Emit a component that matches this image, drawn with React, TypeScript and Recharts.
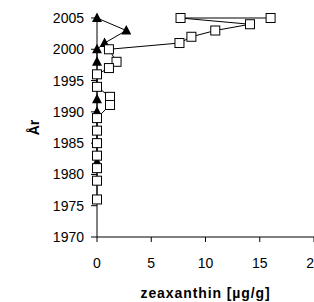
import React from 'react';
import { ScatterChart, Scatter, XAxis, YAxis, Label } from 'recharts';

// Series 1: open squares (zeaxanthin, µg/g) by year
const squareX = [16.0, 7.7, 14.1, 10.9, 8.7, 7.6, 1.1, 1.8, 1.1, 0, 0, 1.2, 1.2, 0, 0, 0, 0, 0, 0, 0];
const squareYear = [2005, 2005, 2004, 2003, 2002, 2001, 2000, 1998, 1997, 1996, 1994, 1992.4, 1991.1, 1989, 1987, 1985, 1983, 1981, 1979, 1976];

// Series 2: filled triangles
const triangleX = [0, 2.7, 0.7, 0, 0, 0, 0, 0];
const triangleYear = [2005, 2003, 2001, 2000, 1998, 1992, 1990, 1982];

const xTicks = [0, 5, 10, 15, 20];
const yTicks = [1970, 1975, 1980, 1985, 1990, 1995, 2000, 2005];

const xLabel = 'zeaxanthin [µg/g]';
const yLabel = 'År';

const squares = squareX.map((x, i) => ({ x, y: squareYear[i] }));
const triangles = triangleX.map((x, i) => ({ x, y: triangleYear[i] }));

const SquareShape = (props: any) => {
  const { cx, cy } = props;
  if (cx == null || cy == null) return null;
  return <rect x={cx - 4.5} y={cy - 4.5} width={9} height={9} fill="#fff" stroke="#000" strokeWidth={1} />;
};

const TriangleShape = (props: any) => {
  const { cx, cy } = props;
  if (cx == null || cy == null) return null;
  return <polygon points={`${cx},${cy - 5.5} ${cx + 5},${cy + 4} ${cx - 5},${cy + 4}`} fill="#000" />;
};

export default function App() {
  return (
    <div style={{ position: 'fixed', left: 0, top: 0, width: 314, height: 302, background: '#fff', fontFamily: '"Liberation Sans", Arial, sans-serif' }}>
      <ScatterChart width={314} height={302} margin={{ top: 18, right: 0, bottom: 0, left: 0 }}>
        <XAxis
          type="number"
          dataKey="x"
          domain={[0, 20]}
          ticks={xTicks}
          interval={0}
          height={65}
          tickSize={5}
          tickMargin={16}
          stroke="#000"
          tick={{ fontSize: 14, fill: '#000' }}
        >
          <Label value={xLabel} position="insideBottom" offset={4} style={{ fontWeight: 'bold', fontSize: 14, letterSpacing: 0.9, fill: '#000' }} />
        </XAxis>
        <YAxis
          type="number"
          dataKey="y"
          domain={[1970, 2005]}
          ticks={yTicks}
          interval={0}
          width={97}
          tickSize={6}
          tickMargin={7}
          stroke="#000"
          tick={{ fontSize: 14, fill: '#000' }}
        >
          <Label
            content={(p: any) => {
              const vb = p.viewBox || {};
              const cx = 34;
              const cy = (vb.y ?? 18) + (vb.height ?? 219) / 2;
              return (
                <text x={cx} y={cy} transform={`rotate(-90 ${cx} ${cy})`} textAnchor="middle" dominantBaseline="central" fontWeight="bold" fontSize={14} fill="#000">
                  {yLabel}
                </text>
              );
            }}
          />
        </YAxis>
        <Scatter data={triangles} line={{ stroke: '#000', strokeWidth: 1 }} shape={TriangleShape} isAnimationActive={false} />
        <Scatter data={squares} line={{ stroke: '#000', strokeWidth: 1 }} shape={SquareShape} isAnimationActive={false} />
      </ScatterChart>
    </div>
  );
}
